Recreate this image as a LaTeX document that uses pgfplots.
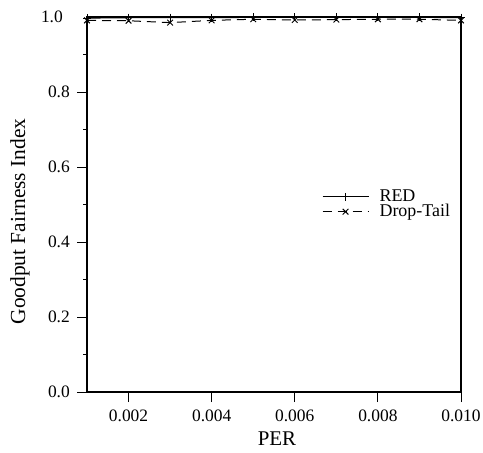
\documentclass[border=0pt]{standalone}
\usepackage{fontspec}
\setmainfont{Liberation Serif}
\usepackage{pgfplots}
\pgfplotsset{compat=1.18}
\begin{document}
\fontsize{18}{21}\selectfont
\begin{tikzpicture}[x=1bp,y=1bp]
\begin{axis}[
  name=ax,
  scale only axis,
  width=374bp, height=375bp,
  xmin=0.001, xmax=0.010,
  ymin=0, ymax=1,
  xtick={0.002,0.004,0.006,0.008,0.010},
  ytick={0,0.2,0.4,0.6,0.8},
  extra y ticks={1.0},
  extra y tick style={major tick length=0pt, yticklabel style={/tikz/xshift=-17bp}},
  minor ytick={0.1,0.3,0.5,0.7,0.9},
  tick align=outside,
  xtick pos=left, ytick pos=left,
  major tick length=10bp, minor tick length=4bp,
  /pgf/number format/assume math mode=true,
  xticklabel style={/tikz/inner sep=0pt, /tikz/anchor=north, /tikz/yshift=-8bp, /pgf/number format/.cd,fixed,fixed zerofill,precision=3},
  yticklabel style={/tikz/inner sep=0pt, /tikz/anchor=east, /tikz/xshift=-7bp, /pgf/number format/.cd,fixed,fixed zerofill,precision=1},
  scaled x ticks=false,
  tick label style={/tikz/font=\fontsize{17.5}{21}\selectfont},
  xlabel={PER}, ylabel={Goodput Fairness Index},
  every axis x label/.style={at={([xshift=3bp,yshift=-40bp]rel axis cs:0.5,0)}, anchor=north, inner sep=0pt, font=\fontsize{21}{24}\selectfont},
  every axis y label/.style={at={([xshift=-67bp,yshift=-17bp]rel axis cs:0,0.5)}, anchor=center, rotate=90, inner sep=0pt, font=\fontsize{21.5}{24}\selectfont},
  axis line style={line width=1.3pt},
  every tick/.style={black, line width=1pt},
  legend style={draw=none, fill=none, at={(rel axis cs:0.628,0.50)}, anchor=west, inner sep=0pt,
    font=\fontsize{18}{20}\selectfont, row sep=-4bp},
  legend cell align=left,
  legend image code/.code={\path[draw=none] (0bp,0bp) -- (55bp,0bp); \draw[#1] (0bp,0bp) -- (46bp,0bp); \draw[#1, solid] plot[only marks] coordinates {(23bp,0bp)};},
]
\addplot[black, line width=1pt, mark=+, mark size=4bp, mark options={solid}] coordinates {
(0.001,0.997) (0.002,0.998) (0.003,0.998) (0.004,0.998) (0.005,0.999)
(0.006,0.999) (0.007,0.999) (0.008,0.999) (0.009,0.999) (0.010,0.998)
};
\addlegendentry{RED}
\addplot[black, line width=1pt, dashed, dash pattern=on 9bp off 6bp, mark=x, mark size=4bp, mark options={solid}] coordinates {
(0.001,0.991) (0.002,0.990) (0.003,0.985) (0.004,0.991) (0.005,0.994)
(0.006,0.992) (0.007,0.993) (0.008,0.994) (0.009,0.994) (0.010,0.991)
};
\addlegendentry{Drop-Tail}
\end{axis}
\pgfresetboundingbox
\path ([shift={(-87bp,-60bp)}]ax.south west) rectangle ([shift={(22bp,17bp)}]ax.north east);
\end{tikzpicture}
\end{document}
